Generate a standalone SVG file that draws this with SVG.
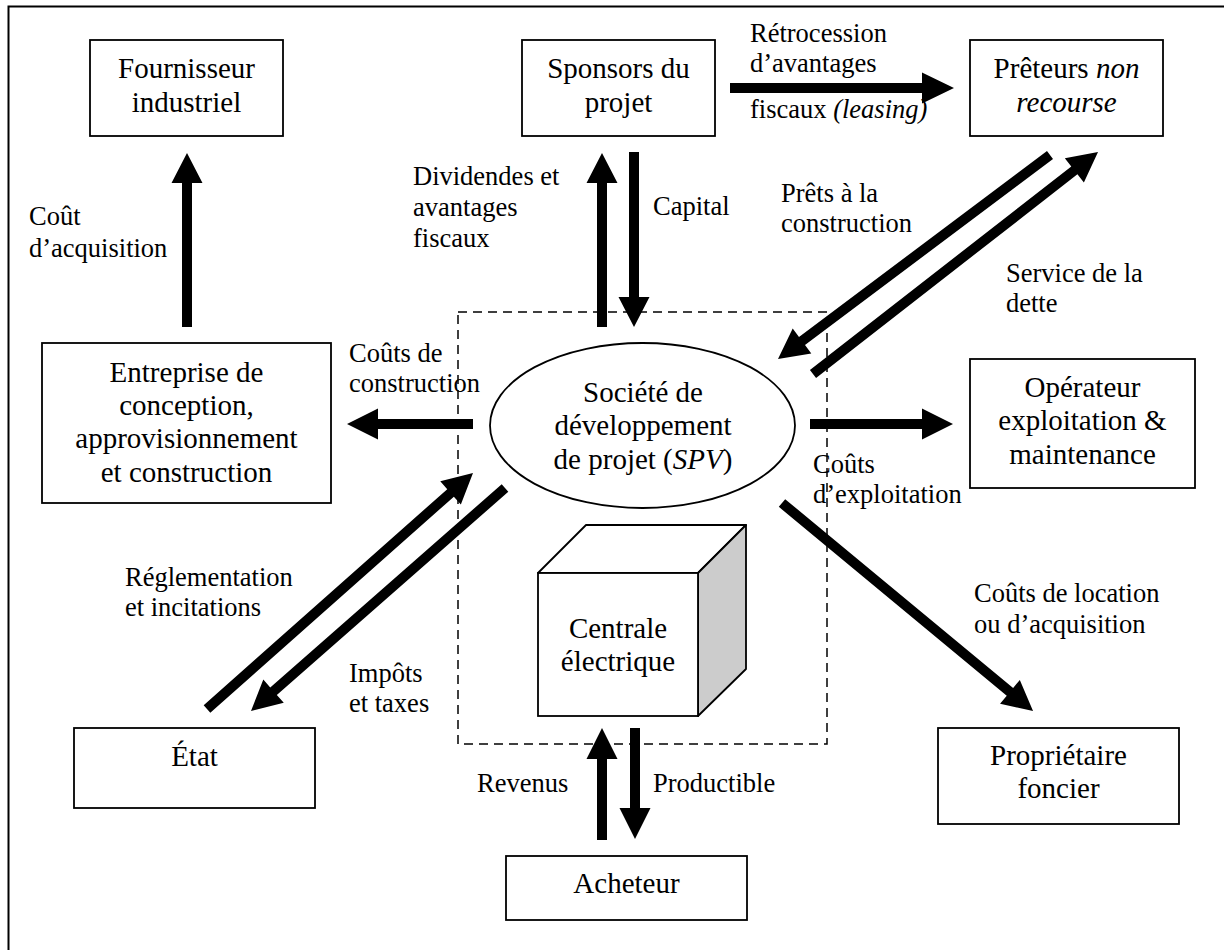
<svg xmlns="http://www.w3.org/2000/svg" width="1224" height="950" viewBox="0 0 1224 950">
<style>
.box{fill:#fff;stroke:#000;stroke-width:1.8}
.nt{font-size:29px;fill:#000;text-anchor:middle}
.lb{font-size:26.5px;fill:#000}
.it{font-style:italic}
.arr{fill:#000}
</style>
<rect width="1224" height="950" fill="#fff"/>
<path d="M8.5,950 V6.5 H1224" fill="none" stroke="#000" stroke-width="2"/>
<rect x="458" y="312" width="369" height="432" fill="none" stroke="#000" stroke-width="1.5" stroke-dasharray="9,6"/>

<g font-family="'Liberation Serif', Tinos, 'Times New Roman', serif">
<g id="fournisseur"><rect class="box" x="90" y="40" width="193" height="96"/><text class="nt" x="186.5" y="78">Fournisseur</text><text class="nt" x="186.5" y="112">industriel</text></g>
<g id="sponsors"><rect class="box" x="522" y="40" width="193" height="96"/><text class="nt" x="618.5" y="78">Sponsors du</text><text class="nt" x="618.5" y="112">projet</text></g>
<g id="preteurs"><rect class="box" x="970" y="40" width="193" height="96"/><text class="nt" x="1066.5" y="78">Prêteurs <tspan class="it">non</tspan></text><text class="nt it" x="1066.5" y="112">recourse</text></g>
<g id="entreprise"><rect class="box" x="42" y="343" width="289" height="160"/><text class="nt" x="186.5" y="382">Entreprise de</text><text class="nt" x="186.5" y="415">conception,</text><text class="nt" x="186.5" y="448">approvisionnement</text><text class="nt" x="186.5" y="482">et construction</text></g>
<g id="spv"><ellipse cx="642.5" cy="425.5" rx="152.5" ry="82.5" fill="#fff" stroke="#000" stroke-width="1.8"/><text class="nt" x="643" y="402">Société de</text><text class="nt" x="643" y="435">développement</text><text class="nt" x="643" y="469">de projet (<tspan class="it">SPV</tspan>)</text></g>
<g id="operateur"><rect class="box" x="970" y="359" width="225" height="129"/><text class="nt" x="1082.5" y="397">Opérateur</text><text class="nt" x="1082.5" y="430">exploitation &amp;</text><text class="nt" x="1082.5" y="464">maintenance</text></g>
<g id="centrale"><polygon points="538,573 586,525 746,525 698,573" fill="#fff" stroke="#000" stroke-width="1.8" stroke-linejoin="round"/><polygon points="698,573 746,525 746,669 698,716" fill="#ccc" stroke="#000" stroke-width="1.8" stroke-linejoin="round"/><rect class="box" x="538" y="573" width="160" height="143"/><text class="nt" x="618" y="638">Centrale</text><text class="nt" x="618" y="671">électrique</text></g>
<g id="etat"><rect class="box" x="74" y="728" width="241" height="80"/><text class="nt" x="194.5" y="766">État</text></g>
<g id="proprietaire"><rect class="box" x="938" y="728" width="241" height="96"/><text class="nt" x="1058.5" y="765">Propriétaire</text><text class="nt" x="1058.5" y="798">foncier</text></g>
<g id="acheteur"><rect class="box" x="506" y="856" width="241" height="64"/><text class="nt" x="626.5" y="893">Acheteur</text></g>
</g>

<g id="connectors" class="arr">
<path d="M182,327 V183 H171.5 L187,153 L202.5,183 H192 V327 Z"/>
<path d="M597,327 V183 H586.5 L602,153 L617.5,183 H607 V327 Z"/>
<path d="M629,152 V297 H618.5 L634,327 L649.5,297 H639 V152 Z"/>
<path d="M730,83 H922 V72.5 L954,88 L922,103.5 V93 H730 Z"/>
<path d="M473,419 H378 V408.5 L347,424 L378,439.5 V429 H473 Z"/>
<path d="M810,419 H922 V408.5 L953,424 L922,439.5 V429 H810 Z"/>
<path d="M597,840 V759 H586.5 L602,728 L617.5,759 H607 V840 Z"/>
<path d="M630,728 V808 H619.5 L635,839 L650.5,808 H640 V728 Z"/>
<g transform="translate(1050,155) rotate(143.13)"><path d="M0,-5 H310 V-15.5 L340,0 L310,15.5 V5 H0 Z"/></g>
<g transform="translate(813,374) rotate(-37.92)"><path d="M0,-5 H331.3 V-15.5 L361.3,0 L331.3,15.5 V5 H0 Z"/></g>
<g transform="translate(782,503) rotate(39.64)"><path d="M0,-5 H296 V-15.5 L326,0 L296,15.5 V5 H0 Z"/></g>
<g transform="translate(207,709) rotate(-41.58)"><path d="M0,-5 H325.6 V-15.5 L355.6,0 L325.6,15.5 V5 H0 Z"/></g>
<g transform="translate(505,488) rotate(138.72)"><path d="M0,-5 H308 V-15.5 L338,0 L308,15.5 V5 H0 Z"/></g>
</g>

<g id="labels" font-family="'Liberation Serif', Tinos, 'Times New Roman', serif">
<text class="lb" x="29" y="225">Coût</text><text class="lb" x="29" y="257">d’acquisition</text>
<text class="lb" x="413" y="185">Dividendes et</text><text class="lb" x="413" y="216">avantages</text><text class="lb" x="413" y="247">fiscaux</text>
<text class="lb" x="653" y="215">Capital</text>
<text class="lb" x="750" y="42">Rétrocession</text><text class="lb" x="750" y="72">d’avantages</text><text class="lb" x="750" y="118">fiscaux <tspan class="it">(leasing)</tspan></text>
<text class="lb" x="781" y="202">Prêts à la</text><text class="lb" x="781" y="232">construction</text>
<text class="lb" x="1006" y="282">Service de la</text><text class="lb" x="1006" y="312">dette</text>
<text class="lb" x="349" y="362">Coûts de</text><text class="lb" x="349" y="392">construction</text>
<text class="lb" x="813" y="473">Coûts</text><text class="lb" x="813" y="503">d’exploitation</text>
<text class="lb" x="125" y="586">Réglementation</text><text class="lb" x="125" y="616">et incitations</text>
<text class="lb" x="974" y="602">Coûts de location</text><text class="lb" x="974" y="633">ou d’acquisition</text>
<text class="lb" x="349" y="682">Impôts</text><text class="lb" x="349" y="712">et taxes</text>
<text class="lb" x="477" y="792">Revenus</text>
<text class="lb" x="653" y="792">Productible</text>
</g>
</svg>
